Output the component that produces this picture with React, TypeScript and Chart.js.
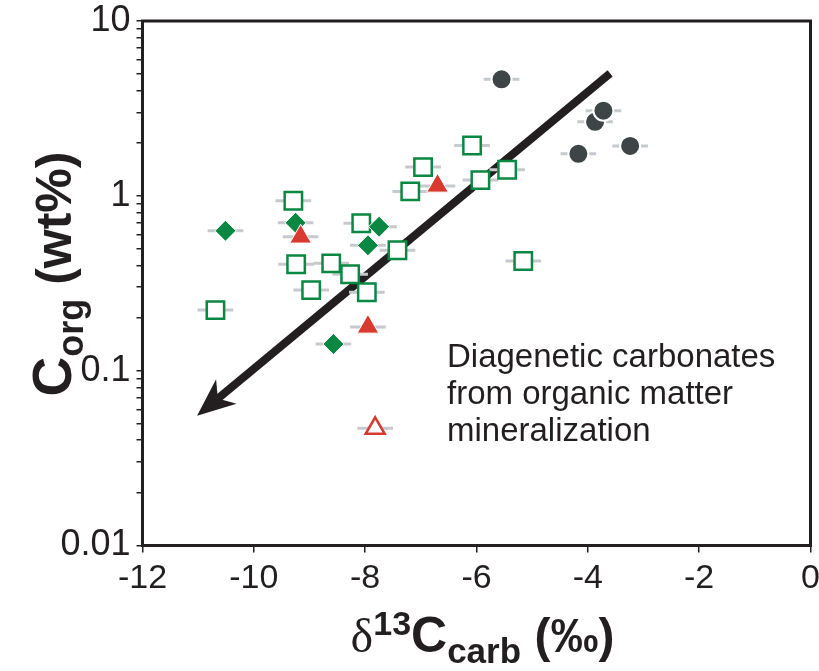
import React, { useEffect, useRef } from "react";
import { Chart, registerables } from "chart.js";

Chart.register(...registerables);

// ---- Data ----
const X_TICKS = [-12, -10, -8, -6, -4, -2, 0];
const X_LABELS = ["-12", "-10", "-8", "-6", "-4", "-2", "0"];
const Y_MAJOR = [0.01, 0.1, 1, 10];
const Y_LABELS = ["0.01", "0.1", "1", "10"];
const MINOR_STEPS = [1, 2, 3, 4, 5, 6, 7, 8, 9];

const CIRCLE_X = [-5.55, -3.87, -3.72, -4.17, -3.24];
const CIRCLE_Y = [4.64, 2.65, 3.07, 1.74, 1.93];

const SQUARE_X = [-6.08, -5.93, -5.45, -6.96, -7.19, -8.07, -7.42, -8.61, -8.27, -7.97, -5.16, -9.29, -9.24, -8.97, -10.69];
const SQUARE_Y = [1.94, 1.23, 1.41, 1.46, 1.06, 0.697, 0.488, 0.411, 0.356, 0.281, 0.424, 0.937, 0.406, 0.289, 0.222];

const DIAMOND_X = [-10.51, -9.25, -7.75, -7.95, -8.57];
const DIAMOND_Y = [0.631, 0.701, 0.666, 0.521, 0.142];

const TRIANGLE_X = [-6.7, -9.16, -7.95];
const TRIANGLE_Y = [1.14, 0.583, 0.178];

const OPEN_TRIANGLE_X = [-7.82];
const OPEN_TRIANGLE_Y = [0.0468];

const X_ERR = 0.32;

const ARROW_FROM = [-3.6, 5.02];
const ARROW_TO = [-11.02, 0.0552];

const NOTE_LINES = ["Diagenetic carbonates", "from organic matter", "mineralization"];
const NOTE_POS = [-6.53, 0.118];

const INK = "#231f20";
const GREEN = "#0a8742";
const RED = "#d83a2f";
const DARK = "#3d4547";
const BAR = "#c6c9cd";
const SANS = '"Liberation Sans", Arial, sans-serif';

function pts(xs: number[], ys: number[]) {
  return xs.map((x, i) => ({ x, y: ys[i] }));
}

type Seg = { t: string; font: string; dy: number };

function drawSegs(ctx: CanvasRenderingContext2D, segs: Seg[], cx: number, baseline: number) {
  let total = 0;
  for (const s of segs) {
    ctx.font = s.font;
    total += ctx.measureText(s.t).width;
  }
  let x = cx - total / 2;
  ctx.textAlign = "left";
  ctx.textBaseline = "alphabetic";
  for (const s of segs) {
    ctx.font = s.font;
    ctx.fillText(s.t, x, baseline + s.dy);
    x += ctx.measureText(s.t).width;
  }
}

const customPlugin = {
  id: "custom",
  beforeDatasetsDraw(chart: any) {
    const { ctx, scales } = chart;
    const xs = scales.x;
    const ys = scales.y;
    ctx.save();
    // arrow
    const x0 = xs.getPixelForValue(ARROW_FROM[0]);
    const y0 = ys.getPixelForValue(ARROW_FROM[1]);
    const x1 = xs.getPixelForValue(ARROW_TO[0]);
    const y1 = ys.getPixelForValue(ARROW_TO[1]);
    const dx = x1 - x0;
    const dy = y1 - y0;
    const len = Math.hypot(dx, dy);
    const ux = dx / len;
    const uy = dy / len;
    const nx = -uy;
    const ny = ux;
    const headLen = 38;
    const headW = 16;
    const notch = 27;
    const bx = x1 - ux * notch;
    const by = y1 - uy * notch;
    ctx.strokeStyle = INK;
    ctx.lineWidth = 8;
    ctx.lineCap = "butt";
    ctx.beginPath();
    ctx.moveTo(x0, y0);
    ctx.lineTo(bx, by);
    ctx.stroke();
    const hx = x1 - ux * headLen;
    const hy = y1 - uy * headLen;
    ctx.fillStyle = INK;
    ctx.beginPath();
    ctx.moveTo(x1, y1);
    ctx.lineTo(hx + nx * headW, hy + ny * headW);
    ctx.lineTo(bx, by);
    ctx.lineTo(hx - nx * headW, hy - ny * headW);
    ctx.closePath();
    ctx.fill();

    // error bars
    ctx.strokeStyle = BAR;
    ctx.lineWidth = 3;
    chart.data.datasets.forEach((ds: any) => {
      ds.data.forEach((p: any) => {
        const py = ys.getPixelForValue(p.y);
        ctx.beginPath();
        ctx.moveTo(xs.getPixelForValue(p.x - X_ERR), py);
        ctx.lineTo(xs.getPixelForValue(p.x + X_ERR), py);
        ctx.stroke();
      });
    });
    ctx.restore();
  },
  afterDraw(chart: any) {
    const { ctx, chartArea, scales } = chart;
    const xs = scales.x;
    const ys = scales.y;
    ctx.save();
    // frame
    ctx.strokeStyle = INK;
    ctx.lineWidth = 3;
    ctx.strokeRect(chartArea.left, chartArea.top, chartArea.right - chartArea.left, chartArea.bottom - chartArea.top);

    // x tick labels
    ctx.fillStyle = INK;
    ctx.font = `34px ${SANS}`;
    ctx.textAlign = "center";
    ctx.textBaseline = "middle";
    X_TICKS.forEach((v, i) => {
      ctx.fillText(X_LABELS[i], xs.getPixelForValue(v), chartArea.bottom + 33);
    });

    // note text
    ctx.font = `33px ${SANS}`;
    ctx.textAlign = "left";
    ctx.textBaseline = "middle";
    const tx = xs.getPixelForValue(NOTE_POS[0]);
    const ty = ys.getPixelForValue(NOTE_POS[1]);
    NOTE_LINES.forEach((line, i) => {
      ctx.fillText(line, tx, ty + i * 37);
    });

    // x title
    const xc = (chartArea.left + chartArea.right) / 2 + 6;
    drawSegs(
      ctx,
      [
        { t: "δ", font: `48px "Liberation Serif", serif`, dy: 0 },
        { t: "13", font: `bold 34px ${SANS}`, dy: -17 },
        { t: "C", font: `bold 50px ${SANS}`, dy: 0 },
        { t: "carb", font: `bold 35px ${SANS}`, dy: 11 },
        { t: " (‰)", font: `bold 48px ${SANS}`, dy: 0 },
      ],
      xc,
      652
    );

    // y title
    ctx.save();
    ctx.translate(71, 274);
    ctx.rotate(-Math.PI / 2);
    drawSegs(
      ctx,
      [
        { t: "C", font: `bold 55px ${SANS}`, dy: 0 },
        { t: "org", font: `bold 36px ${SANS}`, dy: 12 },
        { t: " (wt%)", font: `bold 50px ${SANS}`, dy: 0 },
      ],
      0,
      0
    );
    ctx.restore();
    ctx.restore();
  },
};

export default function App() {
  const ref = useRef<HTMLCanvasElement | null>(null);

  useEffect(() => {
    if (!ref.current) return;
    const yTickValues: number[] = [];
    Y_MAJOR.forEach((m, i) => {
      if (i === Y_MAJOR.length - 1) {
        yTickValues.push(m);
      } else {
        MINOR_STEPS.forEach((s) => yTickValues.push(+(m * s).toPrecision(3)));
      }
    });

    const chart = new Chart(ref.current, {
      type: "scatter",
      data: {
        datasets: [
          {
            label: "circles",
            data: pts(CIRCLE_X, CIRCLE_Y),
            pointStyle: "circle",
            pointRadius: 10,
            backgroundColor: DARK,
            borderColor: "#ffffff",
            borderWidth: 2,
            order: 1,
          },
          {
            label: "open triangle",
            data: pts(OPEN_TRIANGLE_X, OPEN_TRIANGLE_Y),
            pointStyle: "triangle",
            pointRadius: 11,
            backgroundColor: "#ffffff",
            borderColor: RED,
            borderWidth: 2.5,
            order: 2,
          },
          {
            label: "triangles",
            data: pts(TRIANGLE_X, TRIANGLE_Y),
            pointStyle: "triangle",
            pointRadius: 12.5,
            backgroundColor: RED,
            borderColor: "#ffffff",
            borderWidth: 1,
            order: 3,
          },
          {
            label: "diamonds",
            data: pts(DIAMOND_X, DIAMOND_Y),
            pointStyle: "rectRot",
            pointRadius: 10.5,
            backgroundColor: GREEN,
            borderColor: "#ffffff",
            borderWidth: 1,
            order: 4,
          },
          {
            label: "squares",
            data: pts(SQUARE_X, SQUARE_Y),
            pointStyle: "rect",
            pointRadius: 12.3,
            backgroundColor: "#ffffff",
            borderColor: GREEN,
            borderWidth: 2.5,
            order: 5,
          },
        ],
      },
      options: {
        responsive: false,
        animation: false,
        devicePixelRatio: 1,
        layout: { autoPadding: false, padding: { left: 0, top: 21, right: 8.5, bottom: 0 } },
        plugins: {
          legend: { display: false },
          tooltip: { enabled: false },
        },
        scales: {
          x: {
            type: "linear",
            min: -12,
            max: 0,
            afterFit: (s: any) => {
              s.height = 671 - 545.5;
              s.paddingLeft = 0;
              s.paddingRight = 0;
            },
            afterBuildTicks: (s: any) => {
              s.ticks = X_TICKS.map((v) => ({ value: v }));
            },
            grid: {
              display: true,
              drawOnChartArea: false,
              drawTicks: true,
              tickLength: 7,
              color: INK,
              lineWidth: 1.5,
            },
            border: { display: false },
            ticks: {
              display: false,
              autoSkip: false,
              maxRotation: 0,
            },
          },
          y: {
            type: "logarithmic",
            min: 0.01,
            max: 10,
            afterFit: (s: any) => {
              s.width = 142.5;
              s.paddingTop = 0;
              s.paddingBottom = 0;
            },
            afterBuildTicks: (s: any) => {
              s.ticks = yTickValues.map((v) => ({ value: v }));
            },
            grid: {
              display: true,
              drawOnChartArea: false,
              drawTicks: true,
              tickLength: 6,
              color: INK,
              lineWidth: 1.5,
            },
            border: { display: false },
            ticks: {
              autoSkip: false,
              padding: 6,
              color: INK,
              font: { family: SANS, size: 36 },
              callback: (v: any) => {
                const idx = Y_MAJOR.findIndex((m) => Math.abs(m - v) / m < 1e-6);
                return idx >= 0 ? Y_LABELS[idx] : "";
              },
            },
          },
        },
      },
      plugins: [customPlugin],
    } as any);
    return () => chart.destroy();
  }, []);

  return (
    <div style={{ position: "fixed", left: 0, top: 0, width: 819, height: 671, background: "#ffffff" }}>
      <canvas ref={ref} width={819} height={671} style={{ display: "block", width: 819, height: 671 }} />
    </div>
  );
}
